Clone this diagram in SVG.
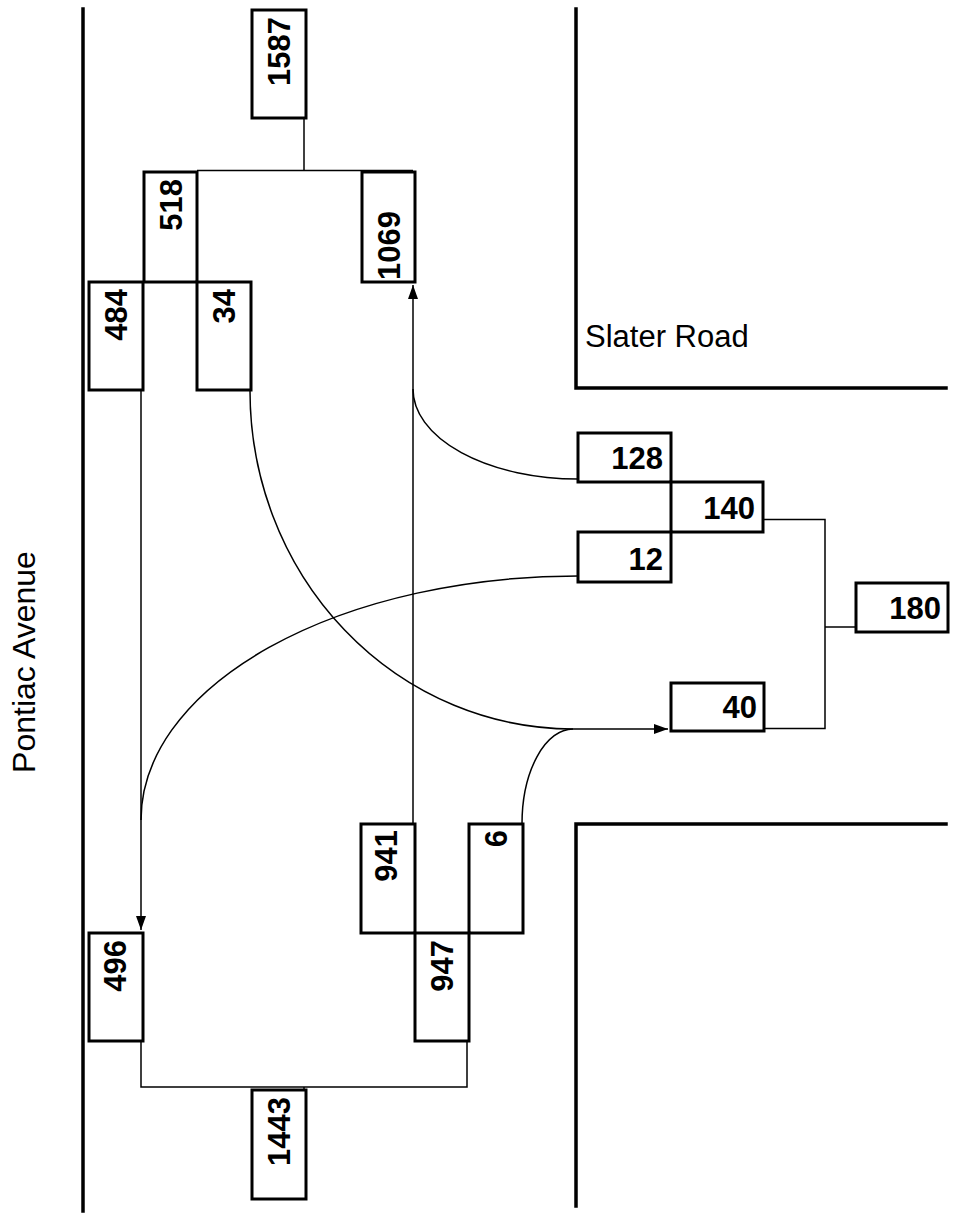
<svg xmlns="http://www.w3.org/2000/svg" width="954" height="1218" viewBox="0 0 954 1218">
<style>
.road{fill:none;stroke:#000;stroke-width:3.5;stroke-linecap:square}
.box{fill:#fff;stroke:#000;stroke-width:3}
.num{font-family:"Liberation Sans",Arial,sans-serif;font-weight:bold;font-size:31px;fill:#000}
.lbl{font-family:"Liberation Sans",Arial,sans-serif;font-size:31px;fill:#000}
.con{fill:none;stroke:#000;stroke-width:1.5}
</style>
<defs>
<marker id="arr" markerUnits="userSpaceOnUse" markerWidth="15" markerHeight="10" refX="14" refY="5" orient="auto">
<path d="M0,0 L14,5 L0,10 z" fill="#000"/>
</marker>
</defs>
<rect x="0" y="0" width="954" height="1218" fill="#fff"/>
<g id="roads">
<line class="road" x1="83" y1="9" x2="83" y2="1211"/>
<polyline class="road" points="576,9 576,388 946,388"/>
<polyline class="road" points="946,824 576,824 576,1206"/>
<text class="lbl" x="585" y="347">Slater Road</text>
<text class="lbl" transform="translate(35,662) rotate(-90)" text-anchor="middle" style="font-size:32px">Pontiac Avenue</text>
</g>
<g id="connectors">
<line class="con" x1="304" y1="118" x2="304" y2="170.5"/>
<line class="con" x1="197" y1="170.5" x2="413" y2="170.5"/>
<polyline class="con" points="141,1042 141,1087 467,1087 467,1042"/>
<line class="con" x1="304" y1="1087" x2="304" y2="1090"/>
<line class="con" x1="141" y1="390" x2="141" y2="930" marker-end="url(#arr)"/>
<line class="con" x1="413" y1="824" x2="413" y2="285" marker-end="url(#arr)"/>
<path class="con" d="M578,479 A165,90 0 0 1 413,389"/>
<path class="con" d="M578,576 A437,244 0 0 0 141,820"/>
<path class="con" d="M250,391 A323,338 0 0 0 573,729 L668,729" marker-end="url(#arr)"/>
<path class="con" d="M522,824 A51,95 0 0 1 573,729"/>
<polyline class="con" points="763,519.5 825,519.5 825,728.5 764,728.5"/>
<line class="con" x1="825" y1="627" x2="856" y2="627"/>
</g>
<g id="n1587"><rect class="box" x="252" y="10" width="54" height="108"/><text class="num" transform="translate(289.5,17) rotate(-90)" text-anchor="end">1587</text></g>
<g id="n518"><rect class="box" x="144" y="172" width="53" height="110"/><text class="num" transform="translate(181.5,179) rotate(-90)" text-anchor="end">518</text></g>
<g id="n1069"><rect class="box" x="362" y="172" width="53" height="110"/><text class="num" transform="translate(400,280) rotate(-90)" text-anchor="start">1069</text></g>
<g id="n484"><rect class="box" x="89" y="282" width="54" height="108"/><text class="num" transform="translate(126.5,289) rotate(-90)" text-anchor="end">484</text></g>
<g id="n34"><rect class="box" x="197" y="282" width="54" height="108"/><text class="num" transform="translate(234.5,289) rotate(-90)" text-anchor="end">34</text></g>
<g id="n128"><rect class="box" x="578" y="433" width="93" height="49"/><text class="num" x="663" y="469" text-anchor="end">128</text></g>
<g id="n140"><rect class="box" x="671" y="482" width="92" height="50"/><text class="num" x="755" y="519" text-anchor="end">140</text></g>
<g id="n12"><rect class="box" x="578" y="532" width="93" height="50"/><text class="num" x="663" y="569.5" text-anchor="end">12</text></g>
<g id="n180"><rect class="box" x="856" y="583" width="92" height="49"/><text class="num" x="941" y="619" text-anchor="end">180</text></g>
<g id="n40"><rect class="box" x="671" y="683" width="93" height="48"/><text class="num" x="757" y="718" text-anchor="end">40</text></g>
<g id="n941"><rect class="box" x="361" y="824" width="54" height="109"/><text class="num" transform="translate(397,830) rotate(-90)" text-anchor="end">941</text></g>
<g id="n6"><rect class="box" x="469" y="824" width="54" height="109"/><text class="num" transform="translate(506.5,830) rotate(-90)" text-anchor="end">6</text></g>
<g id="n947"><rect class="box" x="415" y="933" width="54" height="108"/><text class="num" transform="translate(452.5,940) rotate(-90)" text-anchor="end">947</text></g>
<g id="n496"><rect class="box" x="89" y="933" width="54" height="108"/><text class="num" transform="translate(126,940) rotate(-90)" text-anchor="end">496</text></g>
<g id="n1443"><rect class="box" x="252" y="1090" width="54" height="109"/><text class="num" transform="translate(290,1097) rotate(-90)" text-anchor="end">1443</text></g>
</svg>
